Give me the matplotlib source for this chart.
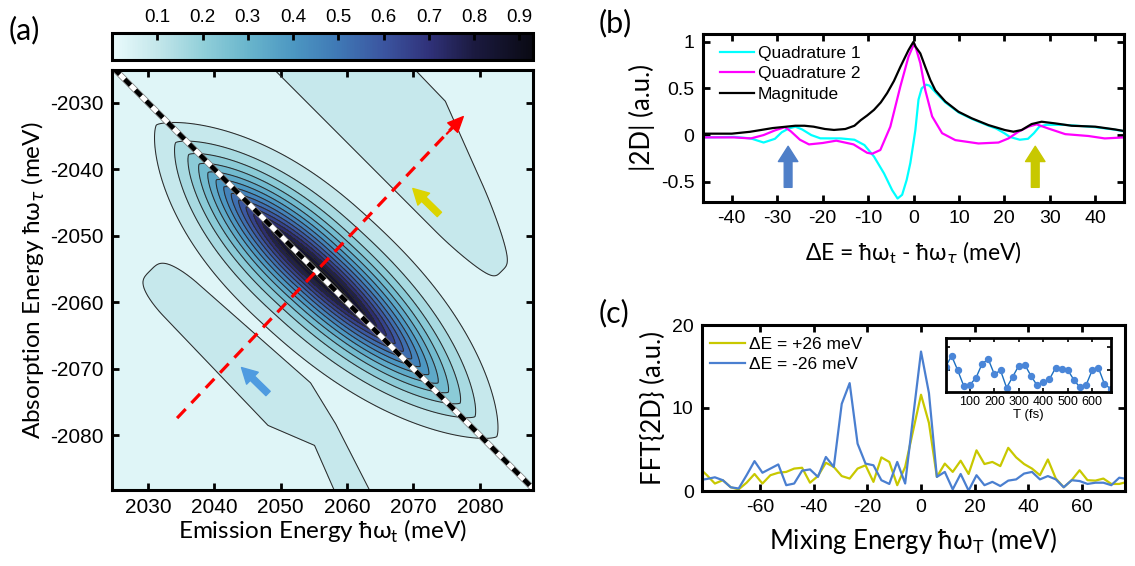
import numpy as np
import matplotlib.pyplot as plt
from matplotlib.colors import LinearSegmentedColormap, Normalize
from matplotlib.cm import ScalarMappable

plt.rcParams['font.family'] = ['Liberation Sans', 'DejaVu Sans']
plt.rcParams['axes.unicode_minus'] = False
plt.rcParams['mathtext.fontset'] = 'dejavusans'
plt.rcParams['lines.scale_dashes'] = False
plt.rcParams['axes.linewidth'] = 2.2

label_font = ['Lato', 'DejaVu Sans']

# ---------------- panel (a): 2D map, shape parameters (meV)
peak_center = 2055.3          # position of the main peak on the diagonal
peak_amp = 0.93
peak_len_ul = 14.9            # half length along diagonal, upper-left side
peak_len_lr = 16.9            # same, lower-right side
peak_pow = 2.3
peak_wid = 3.7                # across the diagonal
peak_tilt = 0.045
level_step = 0.062
n_levels = 14

lobe_amp = 0.10
up_lobe_s = [-30.0, -3.0, 14.0]      # along-diagonal coordinate
up_lobe_top = [23.0, 22.5, 16.0]     # outer edge (half of dE)
up_lobe_bottom = 12.0                # inner edge
up_lobe_end = [6.0, 14.0]            # taper start / tip
low_lobe_s = [-20.0, 8.0, 13.0, 22.0]
low_lobe_mid = [-12.6, -12.0, -11.6, -14.8]
low_lobe_hw = [2.0, 3.2, 1.6, 1.9]
low_lobe_end = [-8.0, -12.5]

cbar_ticks = [0.1, 0.2, 0.3, 0.4, 0.5, 0.6, 0.7, 0.8, 0.9]
map_ticks_x = [2030, 2040, 2050, 2060, 2070, 2080]
map_ticks_y = [-2030, -2040, -2050, -2060, -2070, -2080]

# ---------------- panel (b): diagonal cuts
mag_E = [-46.3, -40, -36, -31, -28, -26, -24, -22, -19.5, -17.5, -15, -13, -11.6, -10.2,
         -8.7, -7.2, -5.8, -4.3, -2.9, -1.1, -0.5, 0, 0.4, 1.5, 2.6, 3.7, 4.8, 7.0, 9.9,
         12.8, 16.5, 20.1, 22, 23.8, 26, 28.2, 31.2, 34.8, 40, 44.4, 46.4]
mag_v = [0.015, 0.015, 0.035, 0.075, 0.09, 0.10, 0.10, 0.09, 0.065, 0.055, 0.065, 0.10, 0.16, 0.21,
         0.27, 0.35, 0.45, 0.58, 0.73, 0.91, 0.96, 1.0, 0.95, 0.875, 0.73, 0.59, 0.48, 0.36, 0.25,
         0.18, 0.107, 0.054, 0.036, 0.054, 0.118, 0.143, 0.125, 0.10, 0.09, 0.06, 0.043]

q1_E = [-46.3, -39.5, -35.8, -33, -30.5, -29, -27.5, -26, -24.5, -22.5, -20.5, -16, -13,
        -10.8, -8.7, -6.5, -4.7, -3.5, -2.5, -1.5, -0.7, 0.0, 0.4, 1.1, 1.8, 2.8, 3.5, 5.0,
        7.0, 10.0, 13.0, 16.5, 18.2, 20.0, 21.2, 23.4, 25.2, 26.5, 27.7, 29.2, 32.9, 36,
        40, 44, 46.4]
q1_v = [-0.025, -0.02, -0.036, -0.08, -0.04, 0.03, 0.07, 0.09, 0.06, 0.0, -0.035, -0.036, -0.05,
        -0.107, -0.23, -0.41, -0.59, -0.68, -0.64, -0.48, -0.30, -0.08, 0.05, 0.38, 0.50, 0.54, 0.53, 0.45,
        0.35, 0.24, 0.17, 0.10, 0.07, 0.02, -0.02, -0.05, -0.04, 0.02, 0.09, 0.11, 0.11, 0.10,
        0.085, 0.06, 0.04]

q2_E = [-46.3, -39.5, -35.8, -33, -30.5, -28.3, -27, -25, -23, -20, -17, -13.2, -10.2, -9.1,
        -7.3, -5.1, -2.9, -1.1, 0, 0.3, 1.5, 2.6, 4.1, 6.3, 9.2, 14.3, 18.7, 20.9, 23.1,
        25.3, 27.1, 29.7, 33.4, 38.5, 42.1, 46.4]
q2_v = [-0.025, -0.025, -0.036, 0.0, 0.05, 0.085, 0.04, -0.05, -0.10, -0.085, -0.06, -0.10, -0.19, -0.20,
        -0.16, 0.09, 0.52, 0.84, 0.965, 0.97, 0.77, 0.48, 0.20, 0.02, -0.054, -0.09, -0.08, -0.036, 0.036,
        0.09, 0.115, 0.07, 0.01, -0.01, -0.036, -0.025]

# ---------------- panel (c): FFT along T
mix_E = np.arange(-28, 28) * 2.954
fft_plus = [2.8, 1.9, 0.9, 1.3, 0.45, 0.2, 1.0, 2.05, 0.9, 1.9, 2.2, 2.3, 2.7, 2.8, 1.0, 1.8,
            3.4, 2.9, 1.8, 1.5, 2.7, 3.1, 1.1, 4.05, 3.5, 0.7, 2.9, 7.25, 11.6, 8.2, 1.7, 3.3,
            2.3, 3.65, 2.05, 4.9, 3.25, 3.5, 3.0, 5.2, 4.05, 3.25, 2.7, 1.9, 3.8, 1.5, 0.45,
            1.3, 2.5, 1.3, 1.25, 1.5, 0.85, 0.85, 1.1, 1.0]
fft_minus = [1.3, 1.45, 1.65, 1.3, 0.45, 0.3, 1.9, 3.6, 2.2, 2.7, 3.2, 0.7, 0.9, 2.45, 2.6, 1.7,
             4.1, 2.9, 10.5, 13.0, 5.7, 3.3, 3.1, 1.3, 0.85, 3.5, 0.9, 8.9, 16.8, 11.8, 1.7, 2.3,
             0.2, 2.05, 0.05, 1.9, 0.7, 1.1, 0.6, 1.25, 1.4, 2.1, 2.3, 1.4, 1.8, 1.4, 0.45,
             1.3, 1.2, 0.85, 1.0, 1.0, 0.7, 1.6, 1.45, 1.4]

inset_T = np.arange(0, 700, 25)
inset_v = [7.3, 10.6, 6.3, 1.6, 2.0, 4.1, 8.3, 9.6, 5.1, 6.3, 1.1, 4.4, 7.7, 7.9, 4.6, 1.8,
           2.7, 3.6, 7.0, 6.7, 6.4, 3.5, 1.2, 1.9, 6.3, 7.1, 2.3, 0.8]

# ---------------- build the 2D map
em = np.linspace(2023, 2090, 600)
ab = np.linspace(2023, 2090, 600)
X, A = np.meshgrid(em, ab)
Y = -A
s = (X + A) / 2 - peak_center
d = (X - A) / 2
dd = d - peak_tilt * s
L = np.where(s < 0, peak_len_ul, peak_len_lr)
main = peak_amp * np.exp(-(np.abs(s) / L) ** peak_pow) * np.exp(-(np.abs(dd) / peak_wid) ** 1.3)

k = np.log(level_step / lobe_amp)
dtop = np.interp(s, up_lobe_s, up_lobe_top)
dc = (dtop + up_lobe_bottom) / 2
hw = (dtop - up_lobe_bottom) / 2
e_up = ((d - dc) / hw) ** 4 + (np.clip(s - up_lobe_end[0], 0, None) / (up_lobe_end[1] - up_lobe_end[0])) ** 2
upper = lobe_amp * np.exp(k * e_up)

dc2 = np.interp(s, low_lobe_s, low_lobe_mid)
hw2 = np.interp(s, low_lobe_s, low_lobe_hw)
e_lo = ((d - dc2) / hw2) ** 4 + (np.clip(low_lobe_end[0] - s, 0, None) / (low_lobe_end[0] - low_lobe_end[1])) ** 2
lower = lobe_amp * np.exp(k * e_lo)

field = np.maximum(main, np.maximum(upper, lower))

cmap = LinearSegmentedColormap.from_list('ice_r', [
    (0.0, '#eafbfc'), (0.1 / 0.93, '#c3e6ea'), (0.2 / 0.93, '#91cfd9'), (0.3 / 0.93, '#69b5cc'),
    (0.4 / 0.93, '#4c97c2'), (0.5 / 0.93, '#3f78b5'), (0.6 / 0.93, '#3b55a0'), (0.7 / 0.93, '#30327a'),
    (0.8 / 0.93, '#1b1a40'), (1.0, '#0a0a14')])
norm = Normalize(0, 0.93)
levels = [level_step * (i + 1) for i in range(n_levels)]

W, H = 1135, 566
fig = plt.figure(figsize=(W / 100, H / 100), dpi=100)

def box(l, t, r, b):
    return [l / W, 1 - b / H, (r - l) / W, (b - t) / H]

def style_axes(ax, size):
    ax.tick_params(direction='in', top=True, right=True, length=5, width=2, labelsize=size, pad=6)

ax_a = fig.add_axes(box(112, 70, 533, 490))
ax_a.contourf(X, Y, field, levels=[0] + levels + [1.2], cmap=cmap, norm=norm)
ax_a.contour(X, Y, field, levels=levels, colors='#2b2b2b', linewidths=0.75)
diag = np.array([2020, 2095])
ax_a.plot(diag, -diag, color='#777777', lw=4.4, solid_capstyle='butt')
ax_a.plot(diag, -diag, color='white', lw=3.4, solid_capstyle='butt')
ax_a.plot(diag, -diag, color='black', lw=3.4, dashes=(6, 5))
red_start = (2034.4, -2077.4)
red_end = (2077.5, -2032.1)
ax_a.plot([red_start[0], red_end[0] - 1.5], [red_start[1], red_end[1] - 1.5], color='#ff0000', lw=2.3,
          dashes=(9, 6))
ax_a.annotate('', xy=red_end, xytext=(red_end[0] - 2.5, red_end[1] - 2.6),
              arrowprops=dict(arrowstyle='simple,head_length=1.0,head_width=0.9,tail_width=0.05',
                              color='#ff0000', mutation_scale=11, shrinkA=0, shrinkB=0))
ax_a.annotate('', xy=(2069.9, -2042.9), xytext=(2073.9, -2046.8),
              arrowprops=dict(arrowstyle='simple,head_length=0.55,head_width=0.6,tail_width=0.22',
                              color='#dcd400', mutation_scale=20, shrinkA=0, shrinkB=0))
ax_a.annotate('', xy=(2044.1, -2069.8), xytext=(2048.1, -2073.7),
              arrowprops=dict(arrowstyle='simple,head_length=0.55,head_width=0.6,tail_width=0.22',
                              color='#4f9be0', mutation_scale=20, shrinkA=0, shrinkB=0))
ax_a.set_xlim(2024.6, 2088.0)
ax_a.set_ylim(-2088.2, -2025.1)
ax_a.set_xticks(map_ticks_x)
ax_a.set_yticks(map_ticks_y)
style_axes(ax_a, 15)
ax_a.set_xlabel('Emission Energy ħω$_\\mathregular{t}$ (meV)', family=label_font, fontsize=17.5, labelpad=0)
ax_a.set_ylabel('Absorption Energy ħω$_\\tau$ (meV)', family=label_font, fontsize=17.5, labelpad=2)

cax = fig.add_axes(box(112, 32.5, 533, 59.5))
cb = fig.colorbar(ScalarMappable(norm=norm, cmap=cmap), cax=cax, orientation='horizontal')
cb.set_ticks(cbar_ticks)
cb.set_ticklabels(['%.1f' % t for t in cbar_ticks])
cax.xaxis.set_ticks_position('top')
cax.tick_params(direction='in', length=5, width=2, labelsize=13.5, pad=5)
cb.outline.set_linewidth(2.2)

# ---------------- panel (b)
ax_b = fig.add_axes(box(702.7, 34, 1124.3, 201.7))
ax_b.plot(q1_E, q1_v, color='#00ffff', lw=1.6, label='Quadrature 1')
ax_b.plot(q2_E, q2_v, color='#ff00ff', lw=1.6, label='Quadrature 2')
ax_b.plot(mag_E, mag_v, color='black', lw=1.6, label='Magnitude')
ax_b.annotate('', xy=(-27.6, -0.12), xytext=(-27.6, -0.56),
              arrowprops=dict(arrowstyle='simple,head_length=0.55,head_width=0.7,tail_width=0.28',
                              color='#4f7fc8', mutation_scale=20, shrinkA=0, shrinkB=0))
ax_b.annotate('', xy=(26.8, -0.12), xytext=(26.8, -0.56),
              arrowprops=dict(arrowstyle='simple,head_length=0.55,head_width=0.7,tail_width=0.28',
                              color='#c8c800', mutation_scale=20, shrinkA=0, shrinkB=0))
ax_b.set_xlim(-46.4, 46.4)
ax_b.set_ylim(-0.714, 1.083)
ax_b.set_xticks([-40, -30, -20, -10, 0, 10, 20, 30, 40])
ax_b.set_yticks([-0.5, 0, 0.5, 1])
ax_b.set_yticklabels(['-0.5', '0', '0.5', '1'])
style_axes(ax_b, 14)
ax_b.set_xlabel('ΔE = ħω$_\\mathregular{t}$ - ħω$_\\tau$ (meV)', family=label_font, fontsize=16.5, labelpad=9)
ax_b.set_ylabel('|2D| (a.u.)', family=label_font, fontsize=18.5, labelpad=4)
ax_b.legend(loc='upper left', bbox_to_anchor=(0.04, 0.93), frameon=False, fontsize=12.5,
            handlelength=2.0, handletextpad=0.2, labelspacing=0.3, borderaxespad=0, borderpad=0)

# ---------------- panel (c)
ax_c = fig.add_axes(box(702, 325, 1125, 491))
ax_c.plot(mix_E, fft_plus, color='#c8c800', lw=1.6, label='ΔE = +26 meV')
ax_c.plot(mix_E, fft_minus, color='#4a7fd0', lw=1.6, label='ΔE = -26 meV')
ax_c.set_xlim(-81.6, 76.0)
ax_c.set_ylim(0, 20)
ax_c.set_xticks([-60, -40, -20, 0, 20, 40, 60])
ax_c.set_yticks([0, 10, 20])
style_axes(ax_c, 14)
ax_c.set_xlabel('Mixing Energy ħω$_\\mathregular{T}$ (meV)', family=label_font, fontsize=18.5, labelpad=6)
ax_c.set_ylabel('FFT{2D} (a.u.)', family=label_font, fontsize=18.5, labelpad=4)
ax_c.legend(loc='upper left', bbox_to_anchor=(0.02, 0.93), frameon=False, fontsize=12.5,
            handlelength=2.0, handletextpad=0.2, labelspacing=0.3, borderaxespad=0, borderpad=0)

ax_in = fig.add_axes(box(945.5, 337.7, 1110.5, 391.5))
ax_in.plot(inset_T, inset_v, color='#1b6fc0', lw=1.0, marker='o', ms=4.3,
           markerfacecolor='#4a86d8', markeredgecolor='#4a86d8')
ax_in.set_xlim(0, 675)
ax_in.set_ylim(0, 16)
ax_in.set_xticks([100, 200, 300, 400, 500, 600])
ax_in.set_yticks([6.3, 13.3])
ax_in.set_yticklabels([])
for sp in ax_in.spines.values():
    sp.set_linewidth(2.0)
ax_in.tick_params(direction='in', top=True, right=True, length=3, width=1.2, labelsize=9, pad=3)
ax_in.set_xlabel('T (fs)', fontsize=9.5, labelpad=1)

fig.text(9 / W, 1 - 30 / H, '(a)', family=label_font, fontsize=22, va='center', ha='left')
fig.text(599 / W, 1 - 23 / H, '(b)', family=label_font, fontsize=22, va='center', ha='left')
fig.text(599 / W, 1 - 313 / H, '(c)', family=label_font, fontsize=22, va='center', ha='left')

fig.savefig('out.png', dpi=100)
